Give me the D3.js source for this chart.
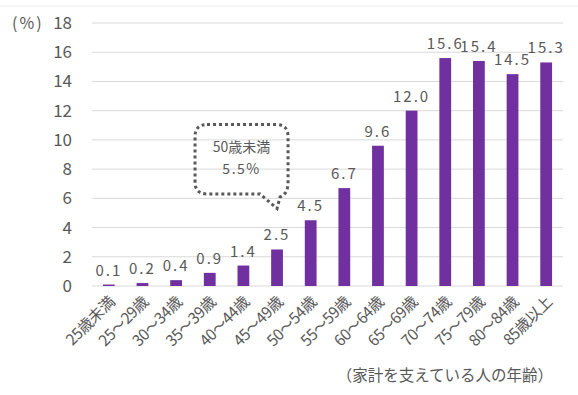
<!DOCTYPE html>
<html>
<head>
<meta charset="utf-8">
<script src="https://cdn.jsdelivr.net/npm/d3@7"></script>
<style>
  body { margin: 0; background: #fff; }
  svg text { font-family: "Noto Sans CJK JP", "Noto Sans", sans-serif; fill: #595959; }
</style>
</head>
<body>
<div id="chart"></div>
<script>
// data
const ageGroups = ["25歳未満", "25～29歳", "30～34歳", "35～39歳", "40～44歳", "45～49歳", "50～54歳",
    "55～59歳", "60～64歳", "65～69歳", "70～74歳", "75～79歳", "80～84歳", "85歳以上"];
const rates = [0.1, 0.2, 0.4, 0.9, 1.4, 2.5, 4.5, 6.7, 9.6, 12.0, 15.6, 15.4, 14.5, 15.3];
const yTicks = [0, 2, 4, 6, 8, 10, 12, 14, 16, 18];
const calloutLines = ["50歳未満", "5.5%"];

const W = 578, H = 395;
const margin = { top: 23, right: 15, bottom: 109, left: 92 };
const width = W - margin.left - margin.right;
const height = H - margin.top - margin.bottom;

const svg = d3.select("#chart").append("svg")
    .attr("width", W)
    .attr("height", H);

// faint border line at the top
svg.append("line")
    .attr("x1", 0).attr("x2", W)
    .attr("y1", 6).attr("y2", 6)
    .attr("stroke", "#ececec");

const g = svg.append("g")
    .attr("transform", `translate(${margin.left},${margin.top})`);

const x = d3.scaleBand()
    .domain(ageGroups)
    .range([0, width])
    .paddingInner(0.65)
    .paddingOuter(0.325);

const y = d3.scaleLinear()
    .domain([0, 18])
    .range([height, 0]);

// gridlines
g.selectAll(".grid")
    .data(yTicks)
    .enter().append("line")
    .attr("x1", 0).attr("x2", width)
    .attr("y1", d => y(d)).attr("y2", d => y(d))
    .attr("stroke", "#d9d9d9")
    .attr("stroke-width", 1);

// y axis labels
const yAxis = d3.axisLeft(y).tickValues(yTicks).tickSize(0).tickPadding(20);
const ya = g.append("g").call(yAxis);
ya.select(".domain").remove();
ya.selectAll("text")
    .style("font-family", "'Liberation Sans Narrow', 'Noto Sans CJK JP', sans-serif")
    .style("font-size", "17px")
    .attr("fill", "#595959");

svg.append("text")
    .attr("x", 12)
    .attr("y", y(18) + margin.top + 6)
    .style("font-size", "16px")
    .style("letter-spacing", "2px")
    .text("(%)");

// bars
g.selectAll(".bar")
    .data(rates)
    .enter().append("rect")
    .attr("class", "bar")
    .attr("x", (d, i) => x(ageGroups[i]))
    .attr("y", d => y(d))
    .attr("width", x.bandwidth())
    .attr("height", d => y(0) - y(d))
    .attr("fill", "#7030a0");

// value labels
g.selectAll(".val")
    .data(rates)
    .enter().append("text")
    .attr("x", (d, i) => x(ageGroups[i]) + x.bandwidth() / 2)
    .attr("y", d => y(d) - 9)
    .attr("text-anchor", "middle")
    .style("font-size", "15px")
    .style("letter-spacing", "2px")
    .text(d => d.toFixed(1));

// x axis labels, rotated
const xa = g.append("g")
    .attr("transform", `translate(0,${height})`)
    .call(d3.axisBottom(x).tickSize(0).tickPadding(0));
xa.select(".domain").remove();
xa.selectAll("text")
    .attr("text-anchor", "end")
    .attr("dy", "0")
    .attr("transform", "translate(7,17) rotate(-45)")
    .style("font-size", "15.5px")
    .style("letter-spacing", "-0.5px")
    .attr("fill", "#595959");

svg.append("text")
    .attr("x", 553)
    .attr("y", 381)
    .attr("text-anchor", "end")
    .style("font-size", "15.5px")
    .text("（家計を支えている人の年齢）");

// callout balloon
const cx = x(ageGroups[5]) + x.bandwidth() / 2;
const bLeft = cx - 82, bRight = cx + 11, bTop = y(11.05), bBottom = y(6.3), r = 12;
const tipX = cx, tipY = y(5.3);
const path = d3.path();
path.moveTo(bLeft + r, bTop);
path.lineTo(bRight - r, bTop);
path.quadraticCurveTo(bRight, bTop, bRight, bTop + r);
path.lineTo(bRight, bBottom - r);
path.quadraticCurveTo(bRight, bBottom, bRight - 8, bBottom + 3);
path.lineTo(tipX, tipY);
path.lineTo(bRight - 28, bBottom);
path.lineTo(bLeft + r, bBottom);
path.quadraticCurveTo(bLeft, bBottom, bLeft, bBottom - r);
path.lineTo(bLeft, bTop + r);
path.quadraticCurveTo(bLeft, bTop, bLeft + r, bTop);
g.append("path")
    .attr("d", path.toString())
    .attr("fill", "none")
    .attr("stroke", "#595959")
    .attr("stroke-width", 3)
    .attr("stroke-dasharray", "3,3")
    .attr("stroke-linecap", "butt");

g.selectAll(".callout")
    .data(calloutLines)
    .enter().append("text")
    .attr("x", (bLeft + bRight) / 2)
    .attr("y", (d, i) => y(9.15) + i * 22)
    .attr("text-anchor", "middle")
    .style("font-size", "14px")
    .style("letter-spacing", (d, i) => i === 1 ? "1.5px" : "0px")
    .attr("fill", "#404040")
    .text(d => d);
</script>
</body>
</html>
